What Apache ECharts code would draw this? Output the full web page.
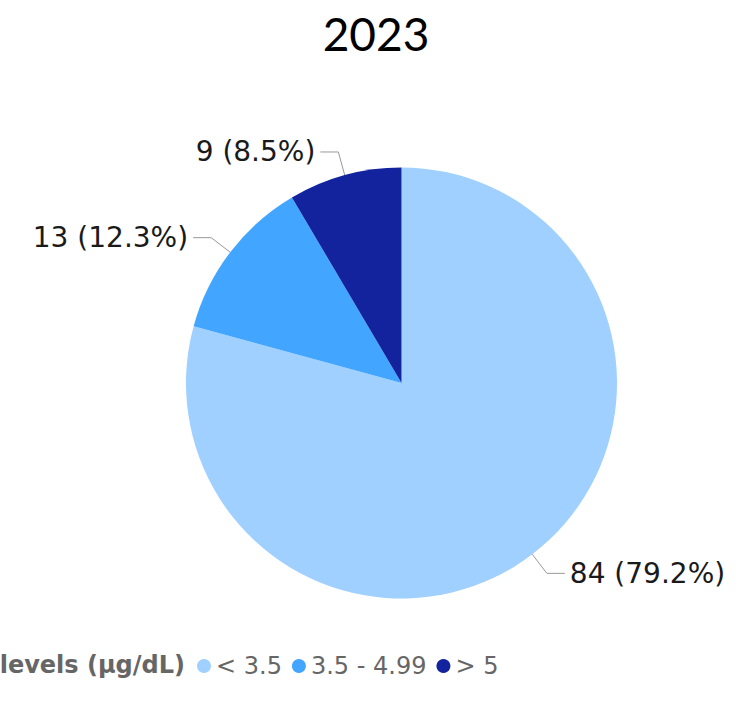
<!DOCTYPE html>
<html>
<head>
<meta charset="utf-8">
<script src="https://cdn.jsdelivr.net/npm/echarts@6/dist/echarts.min.js"></script>
<style>
  html, body { margin: 0; padding: 0; background: #fff; }
  #chart { width: 738px; height: 708px; }
</style>
</head>
<body>
<div id="chart"></div>
<script>
// 2023 blood lead levels — pie
var categories = ['< 3.5', '3.5 - 4.99', '> 5'];
var counts = [84, 13, 9];
var colors = ['#a0d0ff', '#42a5ff', '#13239e'];
var legendTitle = 'Blood lead levels (µg/dL)';

var total = counts.reduce(function(a, b) { return a + b; }, 0);

var chart = echarts.init(document.getElementById('chart'), null, { renderer: 'svg' });

var pieData = categories.map(function(c, i) {
  return { name: c, value: counts[i], itemStyle: { color: colors[i] } };
});

chart.setOption({
  animation: false,
  title: {
    text: '2023',
    left: 371,
    textAlign: 'center',
    top: 5,
    textStyle: { fontFamily: 'Lato', fontSize: 46, fontWeight: 'normal', color: '#000' }
  },
  legend: {
    data: categories,
    left: 197,
    top: 654,
    padding: 0,
    icon: 'circle',
    itemWidth: 14,
    itemHeight: 14,
    itemGap: 10,
    textStyle: { fontFamily: 'DejaVu Sans', fontSize: 24, color: '#666' }
  },
  graphic: [{
    type: 'text',
    right: 738 - 185,
    top: 653,
    style: {
      text: legendTitle,
      font: 'bold 24px "DejaVu Sans"',
      fill: '#666',
      textAlign: 'right'
    }
  }],
  series: [{
    type: 'pie',
    center: [401.5, 383],
    radius: 215.5,
    startAngle: 90,
    clockwise: true,
    data: pieData,
    label: {
      show: true,
      fontFamily: 'DejaVu Sans',
      fontSize: 28,
      color: '#1a1a1a',
      formatter: function(p) { return p.value + ' (' + (p.value / total * 100).toFixed(1) + '%)'; }
    },
    labelLine: {
      show: true,
      length: 24,
      length2: 18,
      lineStyle: { color: '#999', width: 1 }
    },
    emphasis: { scale: false }
  }]
});
</script>
</body>
</html>
